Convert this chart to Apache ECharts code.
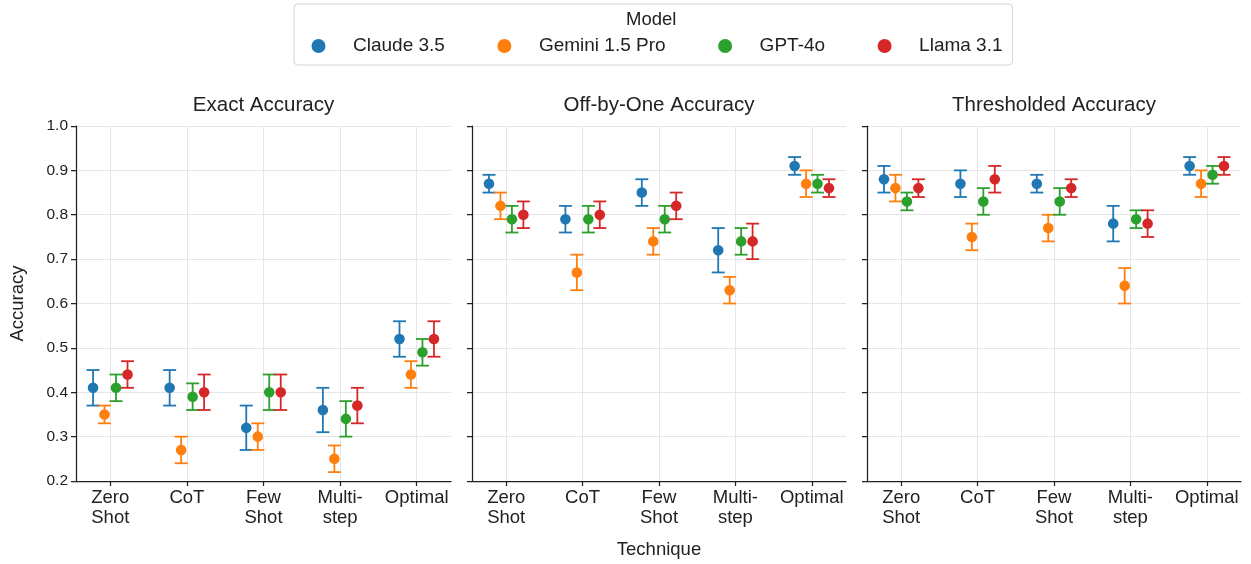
<!DOCTYPE html>
<html lang="en">
<head>
    <meta charset="UTF-8">
    <script type="text/javascript" src="https://cdn.jsdelivr.net/npm/echarts@6.0.0/dist/echarts.min.js"></script>
    <style>
        html, body {
            margin: 0;
            overflow: hidden;
            background: #fff;
        }
        #viewport {
            position: absolute;
            left: 0px;
            top: 0px;
            width: 1251px;
            height: 564px;
        }
    </style>
</head>
<body>
<div id="viewport"></div>
<script>
    var techniques = ['Zero\nShot', 'CoT', 'Few\nShot', 'Multi-\nstep', 'Optimal'];
    var models = ['Claude 3.5', 'Gemini 1.5 Pro', 'GPT-4o', 'Llama 3.1'];
    var colors = ['#1f77b4', '#ff7f0e', '#2ca02c', '#d62728'];
    var panelTitles = ['Exact Accuracy', 'Off-by-One Accuracy', 'Thresholded Accuracy'];

    // rows = models, columns = techniques
    var exactMean = [
        [0.41, 0.41, 0.32, 0.36, 0.52],
        [0.35, 0.27, 0.30, 0.25, 0.44],
        [0.41, 0.39, 0.40, 0.34, 0.49],
        [0.44, 0.40, 0.40, 0.37, 0.52]
    ];
    var exactLow = [
        [0.37, 0.37, 0.27, 0.31, 0.48],
        [0.33, 0.24, 0.27, 0.22, 0.41],
        [0.38, 0.36, 0.36, 0.30, 0.46],
        [0.41, 0.36, 0.36, 0.33, 0.48]
    ];
    var exactHigh = [
        [0.45, 0.45, 0.37, 0.41, 0.56],
        [0.37, 0.30, 0.33, 0.28, 0.47],
        [0.44, 0.42, 0.44, 0.38, 0.52],
        [0.47, 0.44, 0.44, 0.41, 0.56]
    ];

    var offByOneMean = [
        [0.87, 0.79, 0.85, 0.72, 0.91],
        [0.82, 0.67, 0.74, 0.63, 0.87],
        [0.79, 0.79, 0.79, 0.74, 0.87],
        [0.80, 0.80, 0.82, 0.74, 0.86]
    ];
    var offByOneLow = [
        [0.85, 0.76, 0.82, 0.67, 0.89],
        [0.79, 0.63, 0.71, 0.60, 0.84],
        [0.76, 0.76, 0.76, 0.71, 0.85],
        [0.77, 0.77, 0.79, 0.70, 0.84]
    ];
    var offByOneHigh = [
        [0.89, 0.82, 0.88, 0.77, 0.93],
        [0.85, 0.71, 0.77, 0.66, 0.90],
        [0.82, 0.82, 0.82, 0.77, 0.89],
        [0.83, 0.83, 0.85, 0.78, 0.88]
    ];

    var thresholdedMean = [
        [0.88, 0.87, 0.87, 0.78, 0.91],
        [0.86, 0.75, 0.77, 0.64, 0.87],
        [0.83, 0.83, 0.83, 0.79, 0.89],
        [0.86, 0.88, 0.86, 0.78, 0.91]
    ];
    var thresholdedLow = [
        [0.85, 0.84, 0.85, 0.74, 0.89],
        [0.83, 0.72, 0.74, 0.60, 0.84],
        [0.81, 0.80, 0.80, 0.77, 0.87],
        [0.84, 0.85, 0.84, 0.75, 0.89]
    ];
    var thresholdedHigh = [
        [0.91, 0.90, 0.89, 0.82, 0.93],
        [0.89, 0.78, 0.80, 0.68, 0.90],
        [0.85, 0.86, 0.86, 0.81, 0.91],
        [0.88, 0.91, 0.88, 0.81, 0.93]
    ];

    var panels = [
        [exactMean, exactLow, exactHigh],
        [offByOneMean, offByOneLow, offByOneHigh],
        [thresholdedMean, thresholdedLow, thresholdedHigh]
    ];

    var myChart = echarts.init(document.getElementById('viewport'), null, {renderer: 'canvas'});

    var font = 'Liberation Sans, Arial, sans-serif';
    var ink = '#222';
    var dodge = [-0.225, -0.075, 0.075, 0.225];
    var grids = [
        {left: 76, top: 126, width: 375, height: 355},
        {left: 472, top: 126, width: 374, height: 355},
        {left: 867, top: 126, width: 374, height: 355}
    ];
    var titleCenters = [263.5, 659, 1054];

    function renderItem(params, api) {
        var x = api.value(0);
        var p = api.coord([x, api.value(1)]);
        var lo = api.coord([x, api.value(2)]);
        var hi = api.coord([x, api.value(3)]);
        var color = api.visual('color');
        var cap = 6.5;
        var ls = {stroke: color, lineWidth: 1.8};
        return {
            type: 'group',
            children: [
                {type: 'line', shape: {x1: p[0], y1: hi[1], x2: p[0], y2: lo[1]}, style: ls},
                {type: 'line', shape: {x1: p[0] - cap, y1: hi[1], x2: p[0] + cap, y2: hi[1]}, style: ls},
                {type: 'line', shape: {x1: p[0] - cap, y1: lo[1], x2: p[0] + cap, y2: lo[1]}, style: ls},
                {type: 'circle', shape: {cx: p[0], cy: p[1], r: 5.3}, style: {fill: color}}
            ]
        };
    }

    var xAxes = [], yAxes = [], series = [], titles = [];
    grids.forEach(function (g, k) {
        titles.push({
            text: panelTitles[k],
            left: titleCenters[k],
            top: 95,
            textAlign: 'center',
            padding: 0,
            textStyle: {fontFamily: font, fontSize: 20.5, fontWeight: 'normal', color: ink}
        });
        xAxes.push({
            type: 'value',
            gridIndex: k,
            min: -0.4475,
            max: 4.4475,
            name: k === 1 ? 'Technique' : '',
            nameLocation: 'middle',
            nameGap: 59,
            nameTextStyle: {fontFamily: font, fontSize: 18.5, color: ink},
            axisLine: {show: true, onZero: false, lineStyle: {color: ink, width: 1.25}},
            axisTick: {show: true, length: 5, customValues: [0, 1, 2, 3, 4], lineStyle: {color: ink, width: 1.25}},
            axisLabel: {
                customValues: [0, 1, 2, 3, 4],
                formatter: function (v) { return techniques[Math.round(v)]; },
                fontFamily: font, fontSize: 18.5, lineHeight: 20, color: ink, margin: 7
            },
            splitLine: {show: true, lineStyle: {color: '#e6e6e6', width: 1}}
        });
        yAxes.push({
            type: 'value',
            gridIndex: k,
            min: 0.2,
            max: 1.0,
            interval: 0.1,
            name: k === 0 ? 'Accuracy' : '',
            nameLocation: 'middle',
            nameRotate: 90,
            nameGap: 49,
            nameTextStyle: {fontFamily: font, fontSize: 18.5, color: ink},
            axisLine: {show: true, onZero: false, lineStyle: {color: ink, width: 1.25}},
            axisTick: {show: true, length: 5, lineStyle: {color: ink, width: 1.25}},
            axisLabel: {
                show: k === 0,
                formatter: function (v) { return v.toFixed(1); },
                fontFamily: font, fontSize: 15.5, color: ink, margin: 8
            },
            splitLine: {show: true, lineStyle: {color: '#e6e6e6', width: 1}}
        });
        var mean = panels[k][0], low = panels[k][1], high = panels[k][2];
        models.forEach(function (m, i) {
            series.push({
                type: 'custom',
                name: m,
                xAxisIndex: k,
                yAxisIndex: k,
                itemStyle: {color: colors[i]},
                renderItem: renderItem,
                encode: {x: 0, y: 1},
                data: techniques.map(function (t, j) {
                    return [j + dodge[i], mean[i][j], low[i][j], high[i][j]];
                })
            });
        });
    });

    var option = {
        animation: false,
        backgroundColor: '#fff',
        title: titles,
        legend: {
            left: 294,
            top: 4,
            orient: 'horizontal',
            padding: [32, 10, 9, 17.5],
            itemWidth: 37,
            itemHeight: 14,
            itemGap: 52.5,
            borderColor: '#d4d4d4',
            borderWidth: 1,
            borderRadius: 4,
            textStyle: {fontFamily: font, fontSize: 19, color: ink, lineHeight: 20, padding: [0, 0, 0, 11]},
            data: models.map(function (m, i) {
                return {name: m, icon: 'circle', itemStyle: {color: colors[i]}};
            })
        },
        graphic: [{
            type: 'text',
            left: 652 - 26,
            top: 10,
            style: {text: 'Model', fontFamily: font, fontSize: 18.5, fill: ink}
        }],
        grid: grids,
        xAxis: xAxes,
        yAxis: yAxes,
        series: series
    };

    myChart.setOption(option);
</script>
</body>
</html>
